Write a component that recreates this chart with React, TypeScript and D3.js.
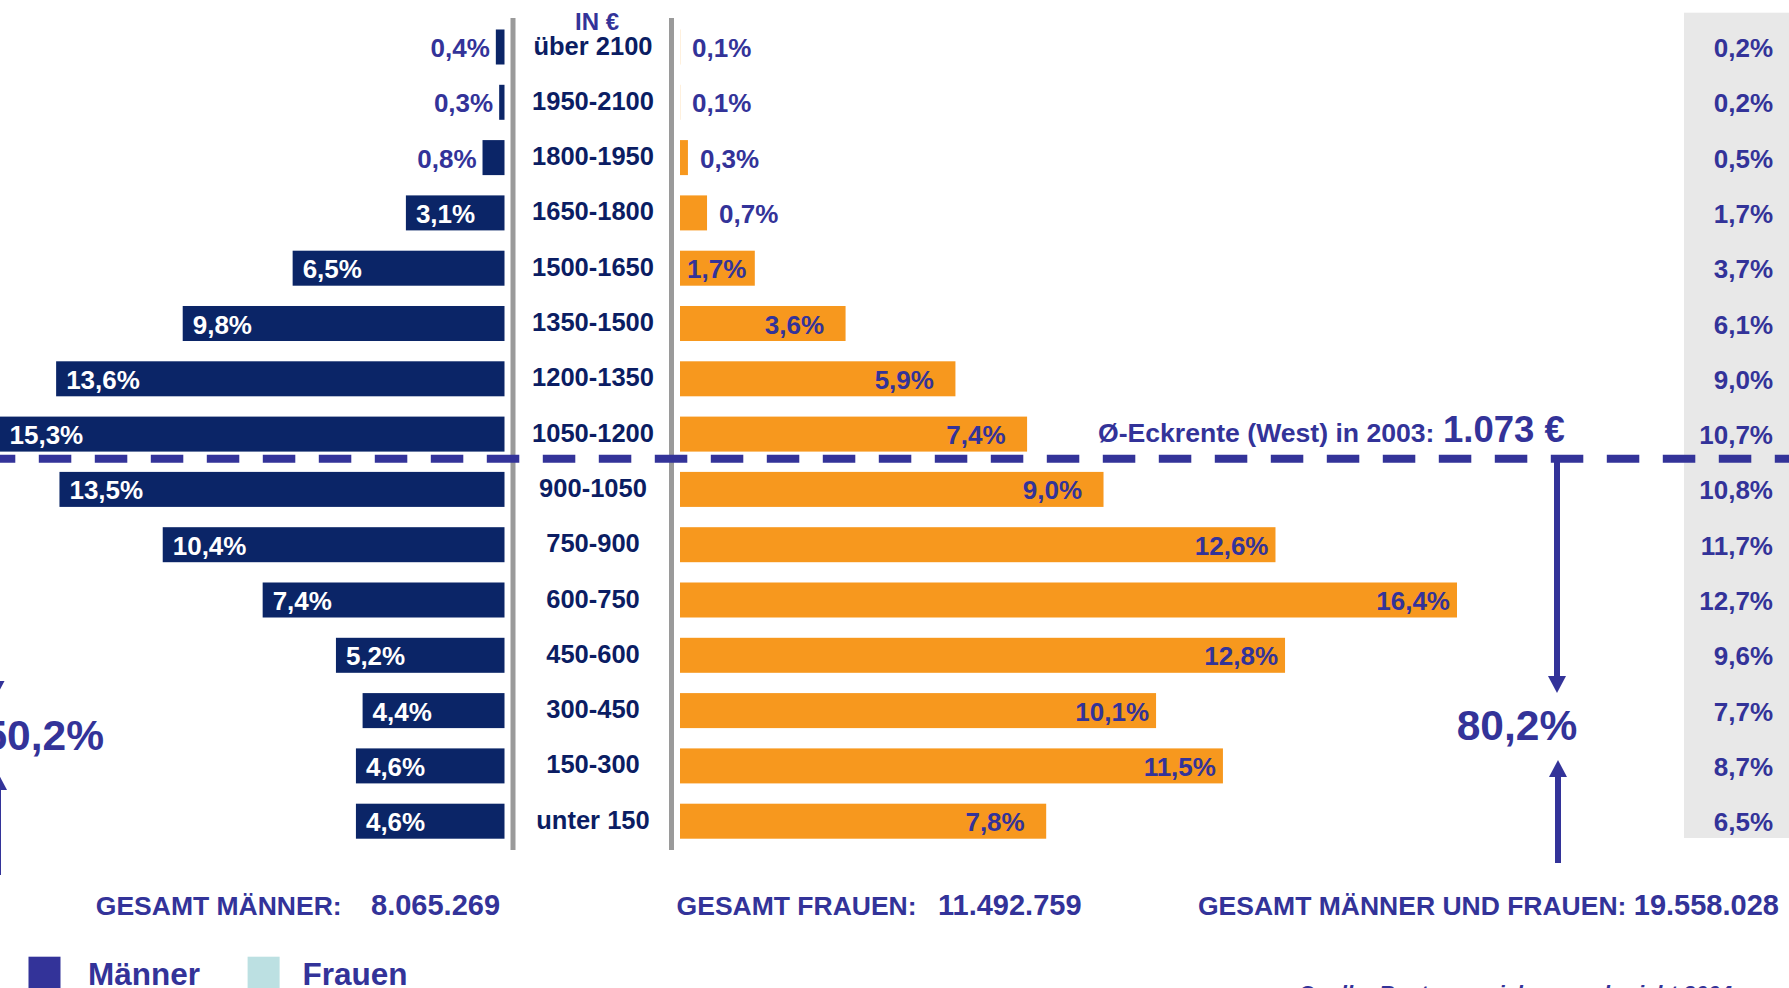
import React from "react";
import * as d3 from "d3";

const categories = ["über 2100", "1950-2100", "1800-1950", "1650-1800", "1500-1650", "1350-1500", "1200-1350", "1050-1200", "900-1050", "750-900", "600-750", "450-600", "300-450", "150-300", "unter 150"];
const menValues = [0.4, 0.3, 0.8, 3.1, 6.5, 9.8, 13.6, 15.3, 13.5, 10.4, 7.4, 5.2, 4.4, 4.6, 4.6];
const womenValues = [0.1, 0.1, 0.3, 0.7, 1.7, 3.6, 5.9, 7.4, 9.0, 12.6, 16.4, 12.8, 10.1, 11.5, 7.8];
const totalValues = [0.2, 0.2, 0.5, 1.7, 3.7, 6.1, 9.0, 10.7, 10.8, 11.7, 12.7, 9.6, 7.7, 8.7, 6.5];
const eckrenteLabel = "Ø-Eckrente (West) in 2003:";
const eckrenteValue = "1.073 €";
const shareBelow = "80,2%";
const shareBelowMen = "50,2%";
const totalMenLabel = "GESAMT MÄNNER:";
const totalMenValue = "8.065.269";
const totalWomenLabel = "GESAMT FRAUEN:";
const totalWomenValue = "11.492.759";
const totalAllLabel = "GESAMT MÄNNER UND FRAUEN:";
const totalAllValue = "19.558.028";
const legendItems = ["Männer", "Frauen"];
const sourceText = "Quelle: Rentenversicherungsbericht 2004";
const unitLabel = "IN €";

const W = 1789;
const H = 988;
const BLUE = "#333399";
const MEN = "#0B2567";
const WOMEN = "#F7981E";
const CAT = "#0B1D63";
const GRAY = "#9A9A9A";
const FONT = "'Liberation Sans', Arial, sans-serif";

const fmt = (v: number) => v.toFixed(1).replace(".", ",") + "%";
const textW = (s: string, fs: number) => {
  let w = 0;
  for (const c of s) {
    if (/[0-9]/.test(c)) w += 0.556;
    else if (c === "," || c === ".") w += 0.278;
    else if (c === "%") w += 0.889;
    else w += 0.6;
  }
  return w * fs;
};

export default function App() {
  const y = d3.scaleBand<string>().domain(categories).range([19.35, 848.85]).paddingInner(0.367).paddingOuter(0.1835);
  const bw = y.bandwidth();
  const step = y.step();
  const menX0 = 504.5;
  const womenX0 = 680;
  const menScale = d3.scaleLinear().domain([0.14, 15.3]).range([0, 505]).clamp(true);
  const womenScale = d3.scaleLinear().domain([0.134, 16.4]).range([0, 777]).clamp(true);
  const cy = (i: number) => (y(categories[i]) as number) + bw / 2;
  const dashY = cy(7) + step / 2 - 3;

  const arrow = (x: number, y1: number, tip: number, key: string) => {
    const dir = tip > y1 ? 1 : -1;
    const headH = 17;
    const base = tip - dir * headH;
    return (
      <g key={key}>
        <line x1={x} x2={x} y1={y1} y2={base} stroke={BLUE} strokeWidth={6} />
        <path d={`M${x - 9},${base} L${x + 9},${base} L${x},${tip} Z`} fill={BLUE} />
      </g>
    );
  };

  return (
    <svg width={W} height={H} style={{ position: "absolute", left: 0, top: 0, display: "block", background: "#fff" }} fontFamily={FONT} fontWeight="bold">
      {/* right total column background */}
      <rect x={1684} y={12.7} width={W - 1684} height={838 - 12.7} fill="#E8E8E8" />

      {/* gray center lines */}
      <line x1={513} x2={513} y1={18} y2={850} stroke={GRAY} strokeWidth={5} />
      <line x1={671.5} x2={671.5} y1={18} y2={850} stroke={GRAY} strokeWidth={5} />

      <text x={597} y={30} fontSize={24} fill={BLUE} textAnchor="middle">{unitLabel}</text>

      {categories.map((c, i) => {
        const m = menValues[i];
        const w = womenValues[i];
        const t = totalValues[i];
        const yy = y(c) as number;
        const mw = menScale(m);
        const ww = womenScale(w);
        const mLeft = menX0 - mw;
        const wEnd = womenX0 + ww;
        const mLabel = fmt(m);
        const wLabel = fmt(w);
        let wText;
        if (w < 1) {
          wText = <text x={wEnd + 12} y={cy(i) + 10} fontSize={26} fill={BLUE}>{wLabel}</text>;
        } else {
          const endX = wEnd - 7 - (w < 10 ? 14.5 : 0);
          if (endX - textW(wLabel, 26) < womenX0 + 7) {
            wText = <text x={womenX0 + 7} y={cy(i) + 10} fontSize={26} fill={BLUE}>{wLabel}</text>;
          } else {
            wText = <text x={endX} y={cy(i) + 10} fontSize={26} fill={BLUE} textAnchor="end">{wLabel}</text>;
          }
        }
        return (
          <g key={c}>
            <rect x={mLeft} y={yy} width={Math.max(mw, 1)} height={bw} fill={MEN} />
            {m >= 1 ? (
              <text x={mLeft + 10} y={cy(i) + 10} fontSize={26} fill="#fff">{mLabel}</text>
            ) : (
              <text x={mLeft - 6} y={cy(i) + 10} fontSize={26} fill={BLUE} textAnchor="end">{mLabel}</text>
            )}
            <text x={593} y={cy(i) + 7.5} fontSize={25.5} fill={CAT} textAnchor="middle">{c}</text>
            <rect x={womenX0} y={yy} width={Math.max(ww, 1)} height={bw} fill={WOMEN} fillOpacity={ww < 1 ? 0.15 : 1} />
            {wText}
            <text x={1773} y={cy(i) + 10} fontSize={26} fill={BLUE} textAnchor="end">{fmt(t)}</text>
          </g>
        );
      })}

      {/* dashed Eckrente line */}
      <line x1={0} x2={W} y1={dashY} y2={dashY} stroke={BLUE} strokeWidth={8} strokeDasharray="32.5,23.5" strokeDashoffset={17.2} />
      <text x={1098} y={441.7} fontSize={26.6} fill={BLUE}>{eckrenteLabel}</text>
      <text x={1443} y={441.7} fontSize={36.5} fill={BLUE}>{eckrenteValue}</text>

      {/* arrows right */}
      {arrow(1557, dashY, 693, "r1")}
      {arrow(1558, 863, 760, "r2")}
      <text x={1517} y={740} fontSize={42.5} fill={BLUE} textAnchor="middle">{shareBelow}</text>

      {/* arrows left (partly cut) */}
      {arrow(-4.5, dashY, 698, "l1")}
      {arrow(-2, 875, 773, "l2")}
      <text x={104} y={750} fontSize={42.5} fill={BLUE} textAnchor="end">{shareBelowMen}</text>

      {/* totals row */}
      <text x={95.8} y={915} fontSize={26.5} fill={BLUE}>{totalMenLabel}</text>
      <text x={371} y={915} fontSize={29} fill={BLUE}>{totalMenValue}</text>
      <text x={676.6} y={915} fontSize={26.5} fill={BLUE}>{totalWomenLabel}</text>
      <text x={938} y={915} fontSize={29} fill={BLUE}>{totalWomenValue}</text>
      <text x={1198} y={915} fill={BLUE}>
        <tspan fontSize={26.5}>{totalAllLabel} </tspan>
        <tspan fontSize={29}>{totalAllValue}</tspan>
      </text>

      {/* legend */}
      <rect x={28.5} y={956.7} width={32} height={40} fill={BLUE} />
      <text x={88} y={985} fontSize={31.5} fill={BLUE}>{legendItems[0]}</text>
      <rect x={247.6} y={956.7} width={32} height={40} fill="#BCE0E2" />
      <text x={302.4} y={985} fontSize={31.5} fill={BLUE}>{legendItems[1]}</text>

      {/* source, cut at the bottom */}
      <text x={1298} y={1001} fontSize={22} fill={BLUE} fontStyle="italic">{sourceText}</text>
    </svg>
  );
}
